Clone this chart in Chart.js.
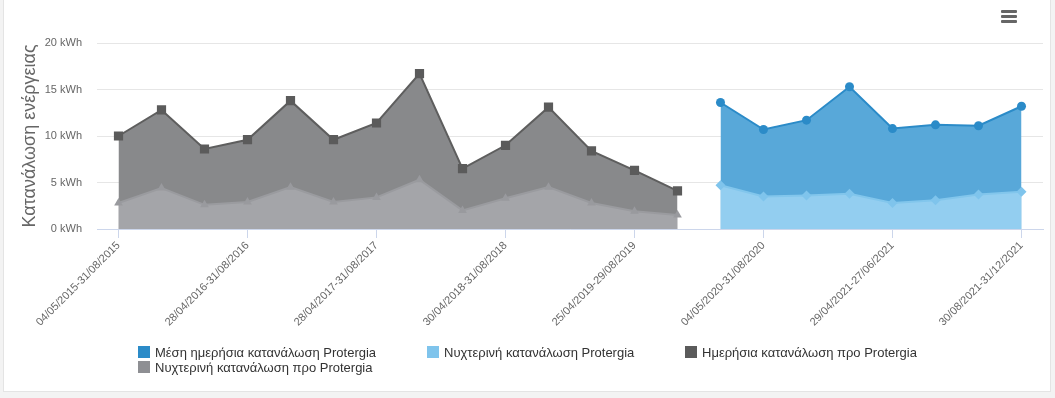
<!DOCTYPE html>
<html lang="el">
<head>
<meta charset="utf-8">
<title>Κατανάλωση ενέργειας</title>
<script src="https://cdn.jsdelivr.net/npm/chart.js@4.4.1/dist/chart.umd.min.js"></script>
<style>
  html, body { margin: 0; padding: 0; background: #f3f3f3; width: 1055px; height: 398px; overflow: hidden; }
  #box { position: absolute; left: 3px; top: -1px; width: 1048px; height: 393px; background: #fff; border: 1px solid #e4e4e4; box-sizing: border-box; }
  #wrap { position: absolute; left: 0; top: 0; width: 1055px; height: 398px; }
  #legend { position: absolute; left: 0; top: 0; width: 1055px; height: 398px; pointer-events: none;
            font-family: "Liberation Sans", Arial, sans-serif; font-size: 13px; color: #333; }
  .item { position: absolute; white-space: nowrap; height: 15px; line-height: 15px; }
  .sw { position: absolute; left: 0; top: 1px; width: 12px; height: 12px; }
  .lbl { position: absolute; left: 17px; top: 0; }
  #menu { position: absolute; left: 1001px; top: 10px; width: 16px; }
  #menu div { height: 3px; background: #666; margin-bottom: 2px; border-radius: 1px; }
</style>
</head>
<body>
<div id="box"></div>
<div id="wrap"><canvas id="c" width="1055" height="398"></canvas></div>
<div id="legend"></div>
<div id="menu"><div></div><div></div><div></div></div>
<script>
// ---- data ----
const categories = [
  "04/05/2015-31/08/2015", "01/09/2015-31/12/2015", "01/01/2016-27/04/2016",
  "28/04/2016-31/08/2016", "01/09/2016-31/12/2016", "01/01/2017-27/04/2017",
  "28/04/2017-31/08/2017", "01/09/2017-31/12/2017", "01/01/2018-29/04/2018",
  "30/04/2018-31/08/2018", "01/09/2018-31/12/2018", "01/01/2019-24/04/2019",
  "25/04/2019-29/08/2019", "30/08/2019-31/12/2019", "01/01/2020-03/05/2020",
  "04/05/2020-31/08/2020", "01/09/2020-31/12/2020", "01/01/2021-28/04/2021",
  "29/04/2021-27/06/2021", "28/06/2021-27/07/2021", "28/07/2021-29/08/2021",
  "30/08/2021-31/12/2021"
];
// periods before Protergia: categories 0..13
const dayBeforeProtergia   = [10.0, 12.8, 8.6, 9.6, 13.8, 9.6, 11.4, 16.7, 6.5, 9.0, 13.1, 8.4, 6.3, 4.1];
const nightBeforeProtergia = [2.8, 4.4, 2.6, 2.9, 4.5, 2.9, 3.4, 5.3, 2.0, 3.3, 4.5, 2.8, 1.9, 1.5];
// periods with Protergia: categories 14..21
const avgDayProtergia      = [13.6, 10.7, 11.7, 15.3, 10.8, 11.2, 11.1, 13.2];
const nightProtergia       = [4.7, 3.5, 3.6, 3.8, 2.8, 3.1, 3.7, 4.0];
const yTicks = [0, 5, 10, 15, 20];
const yUnit = " kWh";
const seriesNames = [
  "Μέση ημερήσια κατανάλωση Protergia",
  "Νυχτερινή κατανάλωση Protergia",
  "Ημερήσια κατανάλωση προ Protergia",
  "Νυχτερινή κατανάλωση προ Protergia"
];
const yTitle = "Κατανάλωση ενέργειας";

// ---- build full-length arrays (null where a series has no data) ----
const beforeCount = dayBeforeProtergia.length;
const pad = (n) => new Array(n).fill(null);
const afterPad = categories.length - beforeCount;
const dataBeforeDay   = dayBeforeProtergia.concat(pad(afterPad));
const dataBeforeNight = nightBeforeProtergia.concat(pad(afterPad));
const dataAfterDay    = pad(beforeCount).concat(avgDayProtergia);
const dataAfterNight  = pad(beforeCount).concat(nightProtergia);

const FONT = '"Liberation Sans", Arial, sans-serif';

const datasets = [
  { label: seriesNames[0], data: dataAfterDay, order: 2,
    borderColor: '#2b8bc8', backgroundColor: '#58a8d9', fill: 'origin', borderWidth: 2,
    pointStyle: 'circle', pointRadius: 4.5, pointBackgroundColor: '#2b8bc8', pointBorderColor: '#2b8bc8',
    legendColor: '#2b8bc8' },
  { label: seriesNames[1], data: dataAfterNight, order: 1,
    borderColor: '#82c6ec', backgroundColor: '#93cef0', fill: 'origin', borderWidth: 2,
    pointStyle: 'rectRot', pointRadius: 5, pointBackgroundColor: '#7fc4ec', pointBorderColor: '#7fc4ec',
    legendColor: '#7fc4ec' },
  { label: seriesNames[2], data: dataBeforeDay, order: 2,
    borderColor: '#5e5e5e', backgroundColor: '#88898b', fill: 'origin', borderWidth: 2,
    pointStyle: 'rect', pointRadius: 6.5, pointBackgroundColor: '#5b5b5b', pointBorderColor: '#5b5b5b',
    legendColor: '#5b5b5b' },
  { label: seriesNames[3], data: dataBeforeNight, order: 1,
    borderColor: '#9a9b9f', backgroundColor: '#a4a5a9', fill: 'origin', borderWidth: 2,
    pointStyle: 'triangle', pointRadius: 5, pointBackgroundColor: '#999a9e', pointBorderColor: '#999a9e',
    legendColor: '#8e8f93' }
];
datasets.forEach(d => { d.tension = 0; d.spanGaps = false; d.pointBorderWidth = 0; d.pointHoverRadius = d.pointRadius + 1; });

const PLOT_LEFT = 97, PLOT_RIGHT = 1043, PLOT_TOP = 43, PLOT_BOTTOM = 229;
const X_AXIS_H = 120;

const chart = new Chart(document.getElementById('c'), {
  type: 'line',
  data: { labels: categories, datasets: datasets },
  options: {
    responsive: false,
    animation: false,
    layout: { padding: { left: 0, right: 1055 - PLOT_RIGHT, top: PLOT_TOP, bottom: 398 - PLOT_BOTTOM - X_AXIS_H } },
    plugins: {
      legend: { display: false },
      tooltip: { enabled: true }
    },
    scales: {
      x: {
        type: 'category',
        offset: true,
        afterFit: (s) => { s.height = X_AXIS_H; },
        grid: {
          drawOnChartArea: false, drawTicks: true, tickLength: 9, offset: false,
          color: (ctx) => (ctx.index % 3 === 0 ? '#ccd6eb' : 'rgba(0,0,0,0)'),
          tickColor: (ctx) => (ctx.index % 3 === 0 ? '#ccd6eb' : 'rgba(0,0,0,0)')
        },
        border: { display: true, color: '#ccd6eb', width: 1 },
        ticks: {
          autoSkip: false, minRotation: 45, maxRotation: 45, padding: 1,
          color: '#666', font: { family: FONT, size: 11 },
          callback: function (v, i) { return i % 3 === 0 ? this.getLabelForValue(v) : ''; }
        }
      },
      y: {
        min: yTicks[0], max: yTicks[yTicks.length - 1],
        afterFit: (s) => { s.width = PLOT_LEFT; },
        afterBuildTicks: (s) => { s.ticks = yTicks.map(v => ({ value: v })); },
        grid: { color: '#e6e6e6', drawTicks: false, lineWidth: 1 },
        border: { display: false },
        ticks: {
          padding: 15, color: '#666', font: { family: FONT, size: 11 },
          callback: (v) => v + yUnit
        },
        title: {
          display: true, text: yTitle, color: '#666',
          font: { family: FONT, size: 18, weight: 'normal' },
          padding: { top: 19, bottom: 0 }
        }
      }
    }
  }
});

// ---- HTML legend (Highcharts-like fixed placement) ----
const legendPos = [[138, 345], [427, 345], [685, 345], [138, 360]];
const lg = document.getElementById('legend');
chart.data.datasets.forEach((d, i) => {
  const it = document.createElement('div');
  it.className = 'item';
  it.style.left = legendPos[i][0] + 'px';
  it.style.top = legendPos[i][1] + 'px';
  const sw = document.createElement('span'); sw.className = 'sw'; sw.style.background = d.legendColor;
  const tx = document.createElement('span'); tx.className = 'lbl'; tx.textContent = d.label;
  it.appendChild(sw); it.appendChild(tx); lg.appendChild(it);
});
</script>
</body>
</html>
